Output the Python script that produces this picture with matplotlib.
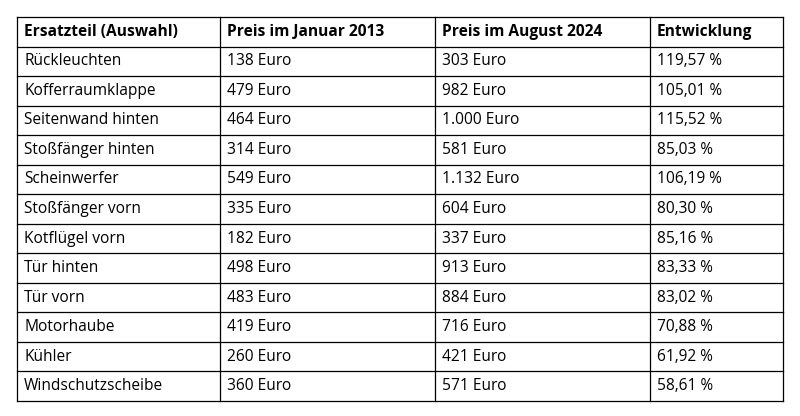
import matplotlib.pyplot as plt

headers = ["Ersatzteil (Auswahl)", "Preis im Januar 2013", "Preis im August 2024", "Entwicklung"]
teile = ["Rückleuchten", "Kofferraumklappe", "Seitenwand hinten", "Stoßfänger hinten",
         "Scheinwerfer", "Stoßfänger vorn", "Kotflügel vorn", "Tür hinten", "Tür vorn",
         "Motorhaube", "Kühler", "Windschutzscheibe"]
preis_2013 = ["138 Euro", "479 Euro", "464 Euro", "314 Euro", "549 Euro", "335 Euro",
              "182 Euro", "498 Euro", "483 Euro", "419 Euro", "260 Euro", "360 Euro"]
preis_2024 = ["303 Euro", "982 Euro", "1.000 Euro", "581 Euro", "1.132 Euro", "604 Euro",
              "337 Euro", "913 Euro", "884 Euro", "716 Euro", "421 Euro", "571 Euro"]
entwicklung = ["119,57 %", "105,01 %", "115,52 %", "85,03 %", "106,19 %", "80,30 %",
               "85,16 %", "83,33 %", "83,02 %", "70,88 %", "61,92 %", "58,61 %"]

W, H = 800, 416
fig = plt.figure(figsize=(8, 4.16), dpi=100)
ax = fig.add_axes([0, 0, 1, 1])
ax.set_xlim(0, W)
ax.set_ylim(H, 0)
ax.axis("off")

col_x = [17, 220, 435, 650, 783]
top, bottom = 17, 401
rows = [headers] + [list(r) for r in zip(teile, preis_2013, preis_2024, entwicklung)]
rh = (bottom - top) / len(rows)

# Gitterlinien
for i in range(len(rows) + 1):
    ax.plot([col_x[0], col_x[-1]], [top + i * rh] * 2, color="black", lw=0.9)
for x in col_x:
    ax.plot([x, x], [top, bottom], color="black", lw=0.9)

for i, r in enumerate(rows):
    for j, txt in enumerate(r):
        ax.text(col_x[j] + 7, top + (i + 0.5) * rh, txt, va="center", ha="left",
                fontsize=11.2, family="Open Sans",
                fontweight="bold" if i == 0 else "normal")

fig.savefig("out.png", dpi=100, facecolor="white")
